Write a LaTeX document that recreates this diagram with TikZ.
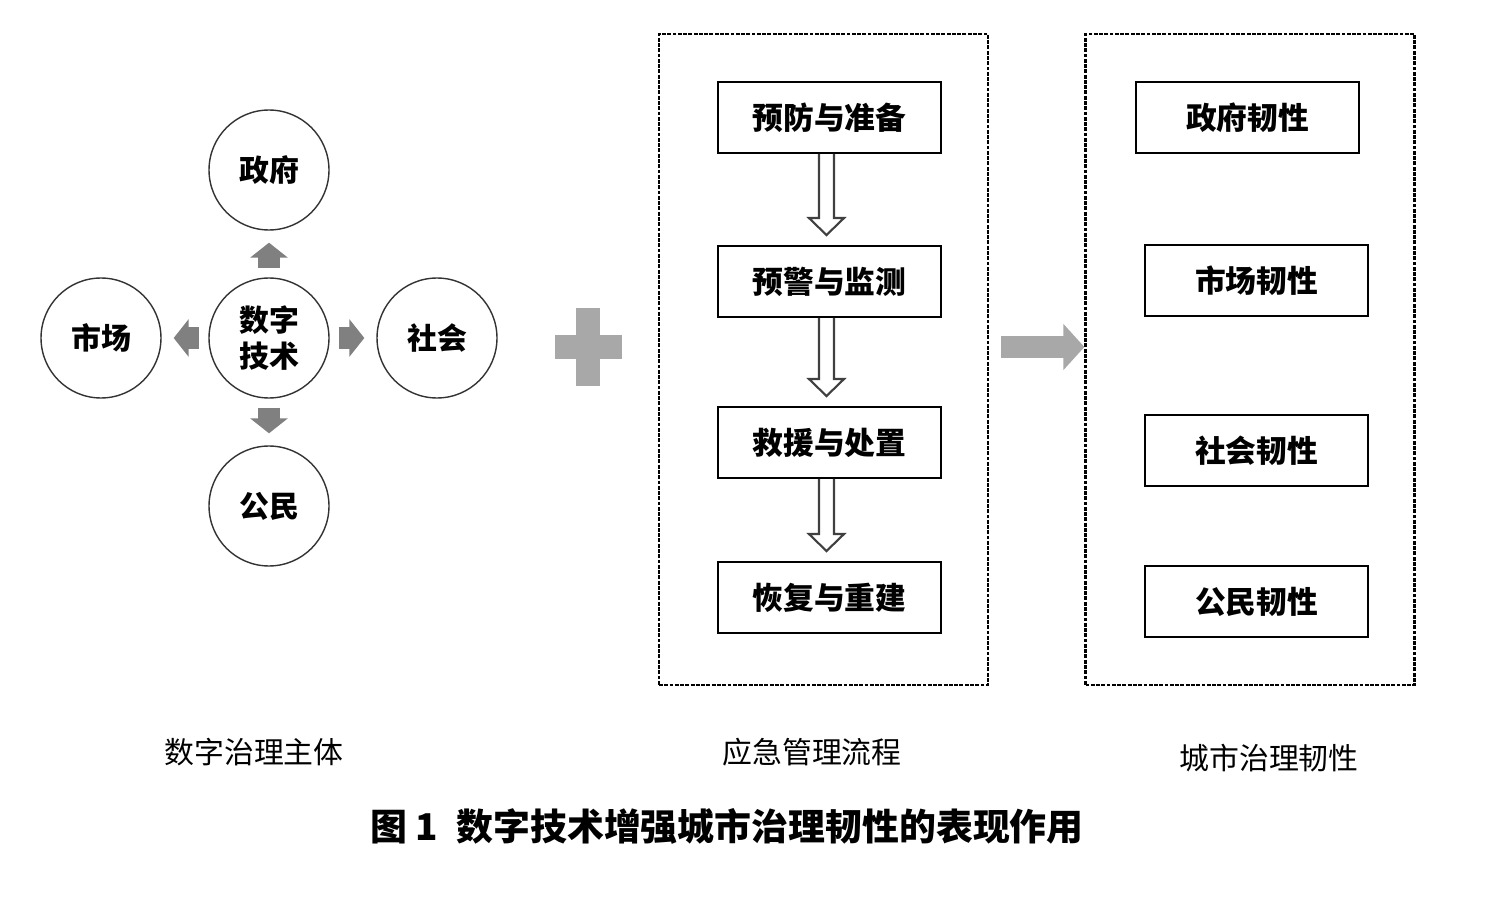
\documentclass[tikz,border=0pt]{standalone}
\usepackage{fontspec}
\setmainfont{Noto Sans CJK SC}
\usetikzlibrary{arrows.meta,calc}
\definecolor{arrow-gray}{RGB}{128,128,128}
\definecolor{plus-gray}{RGB}{168,168,168}

\tikzset{
  circ/.style={draw=black!80, circle, minimum size=2.4cm, inner sep=0pt, line width=0.8pt, align=center, font=\fontsize{17pt}{20.5pt}\selectfont\bfseries},
  stepbox/.style={draw, rectangle, minimum width=4.46cm, minimum height=1.42cm, line width=1.1pt, font=\fontsize{17.5pt}{20pt}\selectfont\bfseries},
  framebox/.style={draw=black, dash pattern=on 2.2pt off 0.8pt, line width=1.3pt, minimum width=6.58cm, minimum height=13.02cm},
  smallarrow/.style={arrow-gray, line width=0.44cm, -{Triangle[width=0.74cm,length=0.3cm]}, shorten <=0.18cm, shorten >=0.24cm},
  bigarrow/.style={plus-gray, line width=0.44cm, -{Triangle[width=0.9cm,length=0.42cm]}, shorten <=0.24cm},
  hollow/.style={draw=black!75, line width=1.2pt},
  caption/.style={font=\fontsize{17pt}{20pt}\selectfont}
}

\newcommand{\hollowdown}[2]{%
  \draw[hollow] let \p1=($(#1.south)+(-3,0)$), \p2=(#2.north) in
    (\x1-0.15cm,\y1) -- (\x1-0.15cm,\y2+0.54cm) -- (\x1-0.35cm,\y2+0.54cm) -- (\x1,\y2+0.2cm)
    -- (\x1+0.35cm,\y2+0.54cm) -- (\x1+0.15cm,\y2+0.54cm) -- (\x1+0.15cm,\y1);
}

\begin{document}
\begin{tikzpicture}[x=0.02cm, y=-0.02cm]
    \useasboundingbox (0,0) rectangle (1488,912);

    % governance subjects
    \node[circ] (tech) at (269,338) {数字\\技术};
    \node[circ] (gov) at (269,170) {政府};
    \node[circ] (market) at (101,338) {市场};
    \node[circ] (society) at (437,338) {社会};
    \node[circ] (citizen) at (269,506) {公民};

    \draw[smallarrow] (tech) -- (gov);
    \draw[smallarrow] (tech) -- (market);
    \draw[smallarrow] (tech) -- (society);
    \draw[smallarrow] (tech) -- (citizen);

    % plus sign
    \coordinate (plus) at (588,347);
    \fill[plus-gray] (555,335) rectangle (622,359);
    \fill[plus-gray] (576,308) rectangle (600,386);

    % emergency management process
    \node[framebox] (procframe) at (823.5,359.5) {};
    \node[stepbox] (prevent) at (829.5,117.5) {预防与准备};
    \node[stepbox] (warn) at (829.5,281.5) {预警与监测};
    \node[stepbox] (rescue) at (829.5,442.5) {救援与处置};
    \node[stepbox] (recover) at (829.5,597.5) {恢复与重建};

    \hollowdown{prevent}{warn}
    \hollowdown{warn}{rescue}
    \hollowdown{rescue}{recover}

    % urban resilience
    \node[framebox] (resframe) at (1250,359.5) {};
    \node[stepbox] (govres) at (1247.5,117.5) {政府韧性};
    \node[stepbox] (marketres) at (1256.5,280.5) {市场韧性};
    \node[stepbox] (societyres) at (1256.5,450.5) {社会韧性};
    \node[stepbox] (citizenres) at (1256.5,601.5) {公民韧性};

    \draw[bigarrow] (procframe.east |- plus) -- (resframe.west |- plus);

    % labels
    \node[caption] (lblsubject) at (254,752) {数字治理主体};
    \node[caption] (lblprocess) at (812,752) {应急管理流程};
    \node[caption] (lblresilience) at (1269,758) {城市治理韧性};
    \node[font=\fontsize{21pt}{24pt}\selectfont\bfseries] (figcaption) at (727,826) {图 1\hspace{0.5em}数字技术增强城市治理韧性的表现作用};
\end{tikzpicture}
\end{document}
